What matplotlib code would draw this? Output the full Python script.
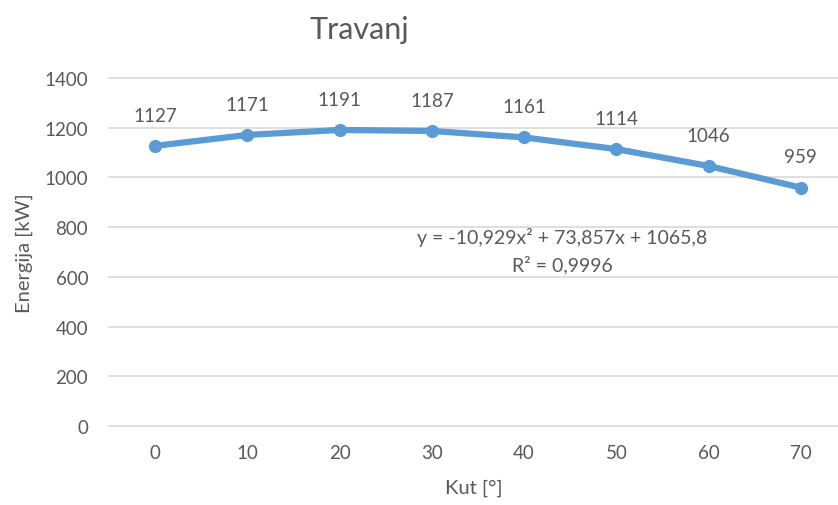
import matplotlib
matplotlib.use("Agg")
import matplotlib.pyplot as plt

angles = [0, 10, 20, 30, 40, 50, 60, 70]
energy = [1127, 1171, 1191, 1187, 1161, 1114, 1046, 959]
yticks = [0, 200, 400, 600, 800, 1000, 1200, 1400]
title = "Travanj"
xlabel = "Kut [°]"
ylabel = "Energija [kW]"
equation = "y = -10,929x² + 73,857x + 1065,8"
r_squared = "R² = 0,9996"

plt.rcParams['font.family'] = ['Lato', 'DejaVu Sans']
grey = "#595959"
blue = "#5B9BD5"

W, H = 838, 506
fig = plt.figure(figsize=(W / 100, H / 100), dpi=100)
left, right, bottom, top = 109, 838, 427, 79
ax = fig.add_axes([left / W, 1 - bottom / H, (right - left) / W, (bottom - top) / H])

x = list(range(len(angles)))
ax.plot(x, energy, color=blue, lw=4.5, marker='o', ms=8.5, zorder=3, clip_on=False)
for xi, v in zip(x, energy):
    ax.annotate(str(v), (xi, v), xytext=(0, 16), textcoords='offset points',
                ha='center', va='bottom', fontsize=13.5, color=grey)

ax.set_xlim(-0.5, 7.5 - 9 / 92.3)
ax.set_ylim(0, 1400)
ax.set_yticks(yticks)
ax.set_xticks(x)
ax.set_xticklabels([str(a) for a in angles])
ax.grid(axis='y', color='#D9D9D9', lw=1.2)
for gl in ax.get_ygridlines():
    gl.set_clip_on(False)
ax.set_axisbelow(True)
for s in ax.spines.values():
    s.set_visible(False)
ax.tick_params(length=0, colors=grey, labelsize=13.5)
ax.tick_params(axis='y', pad=15)
ax.tick_params(axis='x', pad=13)

ax.set_xlabel(xlabel, fontsize=14.5, color=grey, labelpad=13)
ax.set_ylabel(ylabel, fontsize=14.5, color=grey, labelpad=8)

fig.text(359 / W, 1 - 30 / H, title, ha='center', va='center', fontsize=22, color=grey)
fig.text(562 / W, 1 - 238 / H, equation, ha='center', va='center', fontsize=14, color=grey)
fig.text(562 / W, 1 - 265 / H, r_squared, ha='center', va='center', fontsize=14, color=grey)

fig.savefig("out.png", dpi=100, facecolor='white')
